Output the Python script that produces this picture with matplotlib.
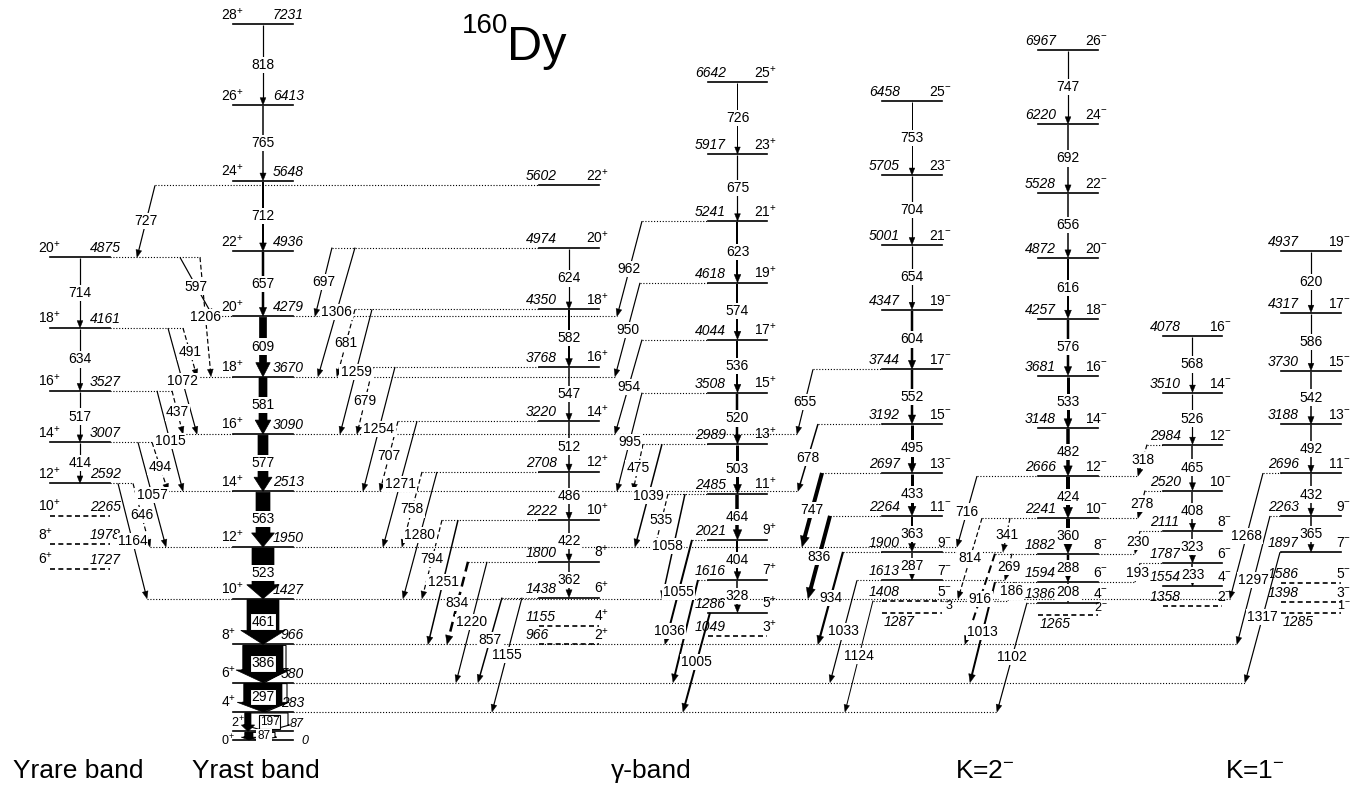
import math
import matplotlib
matplotlib.use("Agg")
import matplotlib.pyplot as plt
from matplotlib.patches import Polygon

plt.rcParams['font.family'] = ['Liberation Sans', 'DejaVu Sans']
plt.rcParams['mathtext.fontset'] = 'custom'
plt.rcParams['mathtext.rm'] = 'Liberation Sans'
plt.rcParams['mathtext.it'] = 'Liberation Sans:italic'
plt.rcParams['mathtext.bf'] = 'Liberation Sans:bold'

# ------------------------------------------------------------------ data
# level energies (keV) and spins per band
yrare_E = [4875, 4161, 3527, 3007, 2592, 2265, 1978, 1727]
yrare_J = ['20+', '18+', '16+', '14+', '12+', '10+', '8+', '6+']
yrast_E = [7231, 6413, 5648, 4936, 4279, 3670, 3090, 2513, 1950, 1427, 966, 580, 283, 87, 0]
yrast_J = ['28+', '26+', '24+', '22+', '20+', '18+', '16+', '14+', '12+', '10+', '8+', '6+', '4+', '2+', '0+']
gam_even_E = [5602, 4974, 4350, 3768, 3220, 2708, 2222, 1800, 1438, 1155, 966]
gam_even_J = ['22+', '20+', '18+', '16+', '14+', '12+', '10+', '8+', '6+', '4+', '2+']
gam_odd_E = [6642, 5917, 5241, 4618, 4044, 3508, 2989, 2485, 2021, 1616, 1286, 1049]
gam_odd_J = ['25+', '23+', '21+', '19+', '17+', '15+', '13+', '11+', '9+', '7+', '5+', '3+']
k2_odd_E = [6458, 5705, 5001, 4347, 3744, 3192, 2697, 2264, 1900, 1613, 1408, 1287]
k2_odd_J = ['25-', '23-', '21-', '19-', '17-', '15-', '13-', '11-', '9-', '7-', '5-', '3']
k2_even_E = [6967, 6220, 5528, 4872, 4257, 3681, 3148, 2666, 2241, 1882, 1594, 1386, 1265]
k2_even_J = ['26-', '24-', '22-', '20-', '18-', '16-', '14-', '12-', '10-', '8-', '6-', '4-', '2-']
k1_even_E = [4078, 3510, 2984, 2520, 2111, 1787, 1554, 1358]
k1_even_J = ['16-', '14-', '12-', '10-', '8-', '6-', '4-', '2-']
k1_odd_E = [4937, 4317, 3730, 3188, 2696, 2263, 1897, 1586, 1398, 1285]
k1_odd_J = ['19-', '17-', '15-', '13-', '11-', '9-', '7-', '5-', '3-', '1-']

# tentative (dashed) levels
tentative = [('yrare', 2265), ('yrare', 1978), ('yrare', 1727), ('ge', 1155), ('ge', 966),
             ('go', 1049), ('k2o', 1408), ('k2o', 1287), ('k2e', 1265), ('k1e', 1358),
             ('k1o', 1586), ('k1o', 1398), ('k1o', 1285)]

# in-band gamma energies and relative intensities (drawn widths)
yrare_g = [714, 634, 517, 414]
yrare_I = [1.2, 1.2, 1.2, 1.2]
yrast_g = [818, 765, 712, 657, 609, 581, 577, 563, 523, 461, 386, 297, 197, 87]
yrast_I = [1.2, 1.5, 2, 2.5, 7, 8, 10, 14, 22, 32, 40, 38, 6, 8]
yrast_conv = [0, 0, 0, 0, 0, 0, 0, 0, 0, 0, 3, 5, 37, 22]
gam_even_g = [624, 582, 547, 512, 486, 422, 362]
gam_even_I = [1.2, 2, 1.5, 1.5, 1.5, 1.5, 1.5]
gam_odd_g = [726, 675, 623, 574, 536, 520, 503, 464, 404, 328]
gam_odd_I = [1.0, 1.2, 2, 2, 2, 2.5, 3, 3.5, 2, 1.5]
k2_odd_g = [753, 704, 654, 604, 552, 495, 433, 363, 287]
k2_odd_I = [1.0, 1.2, 1.2, 2.5, 2.5, 3, 3, 2, 1.5]
k2_even_g = [747, 692, 656, 616, 576, 533, 482, 424, 360, 288, 208]
k2_even_I = [1.2, 1.5, 1.5, 2, 2.5, 3, 3.5, 4, 4, 2.5, 1.5]
k1_even_g = [568, 526, 465, 408, 323, 233]
k1_even_I = [1.2, 1.2, 1.5, 1.5, 1.5, 1.5]
k1_odd_g = [620, 586, 542, 492, 432, 365]
k1_odd_I = [1.2, 1.2, 1.5, 1.5, 1.5, 1.5]

# inter-band transitions: initial band/level, final band/level, label, intensity, tentative
inter_bi = ['ge', 'yrare', 'yrare', 'yrare', 'yrare', 'yrare', 'yrare', 'yrare', 'yrare', 'yrare', 'yrare',
            'ge', 'ge', 'ge', 'ge', 'ge', 'ge', 'ge', 'ge', 'ge', 'ge', 'ge', 'ge', 'ge', 'ge', 'ge', 'ge',
            'go', 'go', 'go', 'go', 'go', 'go', 'go', 'go', 'go', 'go', 'go',
            'k2o', 'k2o', 'k2o', 'k2o', 'k2o', 'k2o', 'k2o',
            'k2e', 'k2e', 'k2e', 'k2e', 'k2e', 'k2e', 'k2e', 'k2e',
            'k1e', 'k1e', 'k1e', 'k1e', 'k1o', 'k1o', 'k1o']
inter_Ei = [5602, 4875, 4875, 4161, 4161, 3527, 3527, 3007, 3007, 2592, 2592,
            4974, 4974, 4350, 4350, 3768, 3768, 3220, 3220, 2708, 2708, 2222, 2222, 1800, 1800, 1438, 1438,
            5241, 4618, 4044, 3508, 2989, 2989, 2485, 2485, 2021, 1616, 1286,
            3744, 3192, 2697, 2264, 1900, 1613, 1408,
            2666, 2241, 2241, 1882, 1882, 1594, 1594, 1386,
            2984, 2520, 2111, 1787, 2696, 2263, 1897]
inter_bf = ['yrare'] + ['yrast'] * 37 + ['yrast'] * 7 + \
           ['yrast', 'yrast', 'k2o', 'yrast', 'k2o', 'k2o', 'yrast', 'yrast'] + \
           ['k2e', 'k2e', 'k2e', 'k2e', 'yrast', 'yrast', 'yrast']
inter_Ef = [4875, 4279, 3670, 3670, 3090, 3090, 2513, 2513, 1950, 1950, 1427,
            4279, 3670, 3670, 3090, 3090, 2513, 2513, 1950, 1950, 1427, 1427, 966, 966, 580, 580, 283,
            4279, 3670, 3090, 2513, 2513, 1950, 1950, 1427, 966, 580, 283,
            3090, 2513, 1950, 1427, 966, 580, 283,
            1950, 1427, 1900, 966, 1613, 1408, 580, 283,
            2666, 2241, 1882, 1594, 1427, 966, 580]
inter_lbl = [727, 597, 1206, 491, 1072, 437, 1015, 494, 1057, 646, 1164,
             697, 1306, 681, 1259, 679, 1254, 707, 1271, 758, 1280, 794, 1251, 834, 1220, 857, 1155,
             962, 950, 954, 995, 475, 1039, 535, 1058, 1055, 1036, 1005,
             655, 678, 747, 836, 934, 1033, 1124,
             716, 814, 341, 916, 269, 186, 1013, 1102,
             318, 278, 230, 193, 1268, 1297, 1317]
inter_I = [1.2, 1.2, 1.2, 1.2, 1.2, 1.2, 1.2, 1.2, 1.2, 1.2, 1.2,
           1.2, 1.2, 1.2, 1.2, 1.2, 1.2, 1.2, 1.2, 1.2, 1.2, 1.2, 1.5, 2.5, 1.2, 1.5, 1.2,
           1.2, 1.2, 1.2, 1.2, 1.2, 1.5, 1.2, 1.5, 2, 2, 2,
           1.2, 1.5, 4, 4, 2.2, 1.2, 1.0,
           1.2, 1.2, 1.2, 2, 1.2, 1.2, 2, 1.2,
           1.2, 1.2, 1.2, 1.2, 1.2, 1.2, 1.2]
inter_tent = [1206, 491, 437, 494, 646, 681, 679, 707, 758, 794, 834, 475, 535,
              814, 341, 916, 269, 186, 318, 278, 230, 193]

# ------------------------------------------------------------------ layout
PXE = 1 / 0.099          # keV per vertical pixel
def ey(ypix):            # pixel row -> energy coordinate
    return (740 - ypix) * PXE

bands = {  # x_left, x_right, label side
    'yrare': (50, 110, 'L'), 'yrast': (233, 293, 'L'),
    'ge': (539, 599, 'R'), 'go': (708, 767, 'R'),
    'k2o': (882, 942, 'R'), 'k2e': (1038, 1098, 'R'),
    'k1e': (1163, 1222, 'R'), 'k1o': (1281, 1341, 'R'),
}
band_data = {
    'yrare': (yrare_E, yrare_J, yrare_g, yrare_I, 0),
    'yrast': (yrast_E, yrast_J, yrast_g, yrast_I, 0),
    'ge': (gam_even_E, gam_even_J, gam_even_g, gam_even_I, 1),
    'go': (gam_odd_E, gam_odd_J, gam_odd_g, gam_odd_I, 0),
    'k2o': (k2_odd_E, k2_odd_J, k2_odd_g, k2_odd_I, 0),
    'k2e': (k2_even_E, k2_even_J, k2_even_g, k2_even_I, 0),
    'k1e': (k1_even_E, k1_even_J, k1_even_g, k1_even_I, 0),
    'k1o': (k1_odd_E, k1_odd_J, k1_odd_g, k1_odd_I, 0),
}
# x pixel of the start / end of each inter-band arrow (same order as data)
inter_x0 = [155, 180, 200, 183, 168, 172, 157, 152, 138, 133, 118,
            332, 355, 355, 372, 373, 395, 398, 417, 422, 437, 442, 458, 468, 487, 502, 522,
            642, 640, 642, 642, 643, 662, 668, 685, 692, 698, 710,
            813, 818, 822, 830, 843, 857, 873,
            977, 982, 1010, 995, 1012, 1015, 995, 1027,
            1147, 1145, 1140, 1140, 1263, 1270, 1280]
inter_x1 = [137, 213, 211, 197, 197, 183, 183, 168, 166, 150, 147,
            315, 318, 337, 340, 357, 363, 380, 383, 402, 403, 422, 428, 447, 456, 478, 492,
            617, 615, 615, 617, 633, 635, 655, 662, 665, 673, 683,
            797, 798, 802, 808, 818, 830, 845,
            957, 958, 1003, 965, 1005, 1008, 970, 997,
            1138, 1138, 1135, 1135, 1230, 1237, 1245]
label_dx = {1036: -16, 1058: -6}      # horizontal nudges of a few transition labels (px)
below_label = [('k2o', 1287), ('k2e', 1265), ('k1o', 1285)]

FS = 10
fig = plt.figure(figsize=(13.61, 7.87), dpi=100)
ax = fig.add_axes([0, 0, 1, 1])
ax.set_xlim(0, 1361)
ax.set_ylim(ey(787), ey(0))
ax.axis('off')

DOT = (0, (1, 1.6))


def jtxt(J):
    if J[-1] == '+':
        return J[:-1] + r'$^{+}$'
    if J[-1] == '-':
        return J[:-1] + r'$^{-}$'
    return J


def head(x1, e1, ux, uy, w):
    hl = 6 + 1.2 * w
    hw = 2.2 + 0.6 * w
    bx, by = x1 - ux * hl, e1 / PXE - uy * hl
    px, py = -uy, ux
    pts = [(x1, e1), (bx + px * hw, (by + py * hw) * PXE), (bx - px * hw, (by - py * hw) * PXE)]
    ax.add_patch(Polygon(pts, closed=True, fc='k', ec='k', lw=0.3, zorder=4))


def arrow(x0, e0, x1, e1, w, dashed=False):
    dx, dy = x1 - x0, (e1 - e0) / PXE
    L = math.hypot(dx, dy)
    ux, uy = dx / L, dy / L
    hl = (6 + 1.2 * w)
    xe, ee = x1 - ux * hl * 0.8, e1 - uy * hl * 0.8 * PXE
    ax.plot([x0, xe], [e0, ee], color='k', lw=w * 0.72,
            ls=(0, (4, 2.2)) if dashed else '-', solid_capstyle='butt', zorder=3)
    head(x1, e1, ux, uy, w)


def tlabel(x, e, s, fs=FS, boxed=False):
    bb = dict(boxstyle='square,pad=0.08', fc='white', ec='k' if boxed else 'none', lw=0.8)
    ax.text(x, e, s, fontsize=fs, ha='center', va='center', bbox=bb, zorder=6)


# dotted extensions of levels
ext = {}
for bi, Ei, bf, Ef, x0, x1 in zip(inter_bi, inter_Ei, inter_bf, inter_Ef, inter_x0, inter_x1):
    ext.setdefault((bi, Ei), []).append(x0)
    ext.setdefault((bf, Ef), []).append(x1)
for (b, E), xs in ext.items():
    xl, xr, _ = bands[b]
    lo, hi = min(xs), max(xs)
    if lo < xl:
        ax.plot([lo, xl], [E, E], color='k', lw=0.8, ls=DOT, zorder=1)
    if hi > xr:
        ax.plot([xr, hi], [E, E], color='k', lw=0.8, ls=DOT, zorder=1)

# levels and their labels
for b, (xl, xr, side) in bands.items():
    Es, Js = band_data[b][0], band_data[b][1]
    for E, J in zip(Es, Js):
        tent = (b, E) in tentative
        ax.plot([xl, xr], [E, E], color='k', lw=1.2, ls=(0, (3, 2)) if tent else '-', zorder=5)
        eb = E + 2 * PXE
        if side == 'L':
            if E == 0:
                ax.text(xl + 2, E - 1 * PXE, jtxt(J), fontsize=9, ha='right', va='center', zorder=6)
                ax.text(xr + 8, E - 1 * PXE, str(E), fontsize=9, ha='left', va='center',
                        style='italic', zorder=6)
            elif E < 100:
                ax.text(xl - 2, E + 1 * PXE, jtxt(J), fontsize=9, ha='left', va='bottom', zorder=6)
                ax.text(xr + 11, E + 1 * PXE, str(E), fontsize=9, ha='right', va='bottom',
                        style='italic', zorder=6)
            else:
                ax.text(xl - 12, eb, jtxt(J), fontsize=FS, ha='left', va='bottom', zorder=6)
                ax.text(xr + 11, eb, str(E), fontsize=FS, ha='right', va='bottom', style='italic', zorder=6)
        else:
            if (b, E) in below_label:
                ax.text(xl + 2, E - 2 * PXE, str(E), fontsize=FS, ha='left', va='top', style='italic', zorder=6)
                ax.text(xr + 10, E + 1 * PXE, jtxt(J), fontsize=9, ha='right', va='bottom', zorder=6)
            else:
                ax.text(xl - 13, eb, str(E), fontsize=FS, ha='left', va='bottom', style='italic', zorder=6)
                ax.text(xr + 10, eb, jtxt(J), fontsize=FS, ha='right', va='bottom', zorder=6)

# in-band transitions
for b, (xl, xr, side) in bands.items():
    Es, Js, gs, Is, i0 = band_data[b]
    cx = (xl + xr) / 2
    for k, (g, w) in enumerate(zip(gs, Is)):
        Eu, El = Es[i0 + k], Es[i0 + k + 1]
        if b == 'yrast' and w >= 6:
            cw = yrast_conv[k]
            L = cx - 18 if cw >= 10 else cx - w / 2
            R = L + w
            hl = min(14, 0.33 * (Eu - El) / PXE)
            top = Eu - 1.0 * PXE
            hb = El + hl * PXE
            e = 3 + 0.1 * w
            if cw > 0:
                R2 = R + cw
                ax.add_patch(Polygon([(L, top), (R2, top), (R2, hb), (R2 + 1.5, hb), ((L + R2) / 2, El),
                                      (L - 1.5, hb), (L, hb)], closed=True, fc='white', ec='k', lw=0.8,
                                     zorder=2))
            ax.add_patch(Polygon([(L, top), (R, top), (R, hb), (R + e, hb), ((L + R) / 2, El),
                                  (L - e, hb), (L, hb)], closed=True, fc='k', ec='k', lw=0.5, zorder=3))
            lx = (R + R + cw) / 2 if cw >= 10 else cx
            tlabel(lx, (Eu + El) / 2, str(g), fs=8.5 if g < 200 else FS, boxed=(g < 500 and g > 100))
        else:
            arrow(cx, Eu - 1 * PXE, cx, El, w)
            tlabel(cx, (Eu + El) / 2, str(g))

# inter-band transitions
for bi, Ei, bf, Ef, x0, x1, g, w in zip(inter_bi, inter_Ei, inter_bf, inter_Ef, inter_x0, inter_x1,
                                        inter_lbl, inter_I):
    arrow(x0, Ei, x1, Ef, w, dashed=(g in inter_tent))
    tlabel((x0 + x1) / 2 + label_dx.get(g, 0), (Ei + Ef) / 2, str(g))

# title and band names
ax.text(507, ey(60), 'Dy', fontsize=35, ha='left', va='baseline')
ax.text(508, ey(33), '160', fontsize=20, ha='right', va='baseline')
for x, s in [(78, 'Yrare band'), (256, 'Yrast band'), (651, 'γ-band'),
             (985, r'K=2$^{-}$'), (1255, r'K=1$^{-}$')]:
    ax.text(x, ey(778), s, fontsize=19, ha='center', va='baseline')

fig.savefig('out.png', dpi=100)
